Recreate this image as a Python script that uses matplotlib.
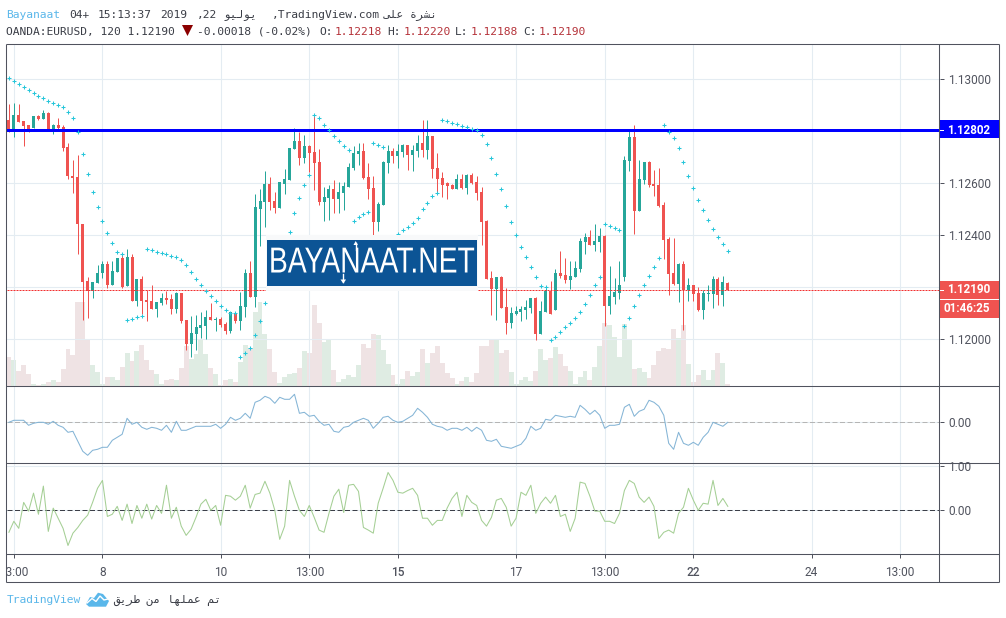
import numpy as np
import matplotlib
matplotlib.use("Agg")
import matplotlib.pyplot as plt
from matplotlib.patches import Rectangle, Polygon
from matplotlib.patheffects import AbstractPathEffect
from matplotlib.transforms import Affine2D, blended_transform_factory

# ---- data: prices in 1e-5 units ----
opens_pts = [112842,112800,112861,112836,112823,112810,112858,112846,112869,112800,
112822,112815,112739,112627,112623,112443,112224,112187,112218,112253,
112290,112210,112258,112313,112203,112317,112149,112232,112151,112148,
112118,112140,112159,112155,112118,112178,112075,111982,112021,112044,
112052,112086,112076,112078,112059,112032,112100,112071,112124,112255,
112163,112499,112527,112596,112532,112503,112596,112612,112731,112762,
112696,112742,112718,112681,112526,112541,112576,112539,112563,112586,
112659,112712,112722,112622,112580,112452,112516,112677,112722,112705,
112719,112746,112708,112723,112754,112727,112781,112658,112619,112599,
112593,112577,112616,112581,112631,112604,112566,112456,112236,112194,
112240,112125,112063,112098,112105,112113,112121,112159,112021,112105,
112187,112113,112255,112247,112229,112240,112270,112374,112393,112363,
112374,112397,112128,112163,112178,112241,112685,112776,112494,112612,
112681,112596,112593,112516,112385,112255,112212,112289,112188,112209,
112178,112113,112175,112174,112232,112170,112218]
highs_pts = [112904,112906,112904,112836,112823,112858,112861,112881,112872,112827,
112850,112822,112753,112689,112708,112443,112241,112222,112286,112299,
112301,112299,112314,112331,112346,112327,112232,112244,112190,112209,
112144,112177,112187,112173,112183,112178,112075,112090,112094,112107,
112113,112140,112086,112086,112068,112107,112107,112183,112269,112299,
112558,112576,112645,112623,112567,112603,112654,112736,112810,112795,
112785,112745,112859,112731,112586,112593,112612,112602,112605,112676,
112742,112753,112753,112676,112625,112526,112685,112746,112733,112750,
112750,112746,112746,112785,112842,112842,112781,112715,112641,112603,
112595,112635,112635,112635,112637,112625,112585,112459,112263,112241,
112244,112196,112123,112128,112130,112151,112160,112162,112148,112205,
112224,112269,112340,112313,112299,112301,112389,112410,112420,112443,
112427,112401,112282,112235,112301,112704,112806,112823,112689,112681,
112685,112650,112658,112527,112393,112389,112293,112301,112235,112210,
112201,112189,112210,112243,112239,112243,112220]
lows_pts = [112797,112778,112832,112740,112797,112810,112840,112846,112800,112787,
112806,112724,112616,112563,112328,112075,112084,112160,112218,112235,
112199,112210,112258,112199,112203,112149,112130,112098,112072,112118,
112087,112132,112136,112099,112100,112064,111961,111934,111959,112005,
112003,112075,112034,112049,112021,112026,112064,112036,112086,112163,
112126,112360,112433,112497,112484,112503,112558,112612,112731,112669,
112678,112644,112573,112516,112456,112459,112484,112484,112497,112584,
112648,112669,112616,112539,112398,112414,112516,112640,112678,112659,
112699,112648,112646,112701,112701,112692,112621,112561,112548,112540,
112577,112577,112577,112559,112596,112535,112363,112232,112094,112075,
112121,112021,112045,112094,112071,112078,112100,111999,112021,112105,
112098,112113,112236,112218,112192,112240,112260,112328,112363,112340,
112336,112052,112098,112136,112155,112224,112646,112404,112494,112596,
112585,112550,112508,112308,112170,112209,112143,112036,112147,112147,
112109,112078,112147,112120,112132,112128,112188]
closes_pts = [112797,112861,112832,112819,112806,112858,112845,112870,112800,112822,
112809,112736,112625,112619,112441,112222,112187,112221,112255,112290,
112210,112263,112313,112201,112317,112149,112232,112149,112145,112118,
112144,112159,112153,112118,112178,112071,111982,112025,112048,112055,
112086,112075,112078,112055,112032,112104,112071,112128,112255,112163,
112507,112531,112596,112527,112503,112602,112616,112735,112762,112696,
112742,112715,112677,112526,112547,112576,112539,112566,112589,112660,
112714,112722,112618,112577,112452,112518,112681,112722,112705,112722,
112746,112708,112727,112754,112727,112781,112655,112616,112593,112589,
112577,112616,112581,112631,112600,112562,112452,112232,112194,112240,
112121,112063,112101,112109,112117,112125,112159,112021,112109,112187,
112098,112255,112244,112228,112244,112274,112378,112393,112363,112378,
112397,112128,112167,112182,112208,112689,112776,112494,112616,112680,
112593,112589,112512,112381,112251,112212,112289,112189,112209,112175,
112113,112178,112179,112232,112170,112220,112190]
nan = float("nan")
sar_pts = [113002,112991,112979,112968,112956,112945,112933,112925,112914,112906,
112899,112891,112872,112849,112795,112710,112634,112564,112507,112453,
112407,112369,112334,112327,112073,112077,112085,112089,112346,112342,
112334,112331,112327,112319,112315,112304,112285,112258,112231,112208,
112185,112165,112146,112127,112112,112100,112100,111931,111947,111966,
112016,112069,112139,nan,nan,nan,nan,112411,112484,112541,
112591,112630,112860,112849,112822,112803,112779,112760,112741,112726,
112453,112469,112480,112488,112753,112745,112737,nan,nan,112404,
112419,112430,112446,112465,112499,112522,112549,112561,112841,112837,
112829,112826,112818,112814,112806,112802,112783,112749,112695,112634,
112576,112511,112450,112400,112354,112315,112277,112238,112204,112200,
111997,112008,112027,112046,112062,112081,112104,112135,112169,112208,
112238,112442,112434,112427,112419,112050,112081,112127,112169,112207,
112242,112276,112311,112822,112795,112772,112733,112680,112626,112580,
112534,112495,112457,112422,112392,112365,112338]
volumes = [87,78,45,63,36,6,3,6,12,18,12,51,111,93,252,252,138,63,42,6,
27,27,18,57,99,75,105,123,78,48,36,6,18,21,18,54,120,81,96,136,
96,54,36,3,18,21,12,72,123,114,222,252,156,111,42,9,27,36,39,54,
105,99,243,189,132,141,48,12,21,33,27,63,126,114,156,153,108,66,33,6,
21,45,30,42,111,69,99,120,69,39,24,6,15,27,12,39,120,120,138,138,
99,108,42,6,18,27,15,45,111,78,84,117,96,60,45,6,27,45,18,57,
120,189,183,147,87,186,141,51,54,42,24,63,105,114,111,171,144,183,66,12,
33,48,18,48,99,69,6]
osc_a = [0,.02,.02,.02,-.03,-.01,0,0,-.02,.01,
-.03,-.05,-.10,-.09,-.19,-.29,-.33,-.28,-.27,-.25,
-.25,-.18,-.15,-.12,.04,-.02,0,-.05,-.07,-.05,
-.06,-.08,-.03,-.10,.01,-.08,-.08,-.06,-.04,-.04,
-.04,-.04,-.02,-.06,-.02,.05,.02,.04,.09,.04,
.20,.22,.26,.24,.19,.25,.23,.23,.28,.09,
.10,.06,.07,.01,-.03,-.02,-.09,-.10,-.05,-.04,
0,.02,.04,.02,-.06,-.01,.05,.06,.02,0,
.01,.04,.07,.14,.10,.05,-.02,-.04,-.05,-.08,
-.06,-.06,-.08,-.05,-.09,-.05,-.08,-.18,-.19,-.17,
-.24,-.25,-.26,-.24,-.22,-.16,-.04,-.08,-.06,.03,
.02,.07,.06,.05,.06,.05,.17,.13,.08,.12,
.07,-.06,-.03,-.03,-.02,.15,.18,.06,.11,.13,
.22,.20,.16,.07,-.21,-.27,-.10,-.21,-.23,-.20,
-.23,-.15,-.10,0,-.02,-.04,0]
osc_b = [-.50,-.25,-.41,.18,-.02,.39,-.09,.55,-.48,.05,
-.18,-.41,-.80,-.52,-.39,-.23,-.11,.18,.50,.68,
-.14,-.09,.09,-.23,.14,-.30,.11,-.18,.14,-.20,
.11,-.07,.57,-.18,.07,-.36,-.57,-.43,-.16,.14,
.25,0,.11,-.34,.34,.32,.23,.32,.57,.05,
.36,.39,.66,.39,0,-.66,-.36,.68,.32,0,
-.14,.11,-.16,-.45,-.50,-.07,.32,.48,-.05,.57,
.59,.43,-.39,-.45,-.52,.16,.50,.86,.68,.41,
.39,.45,.50,.34,-.18,-.18,-.34,-.23,-.23,.05,
.27,.41,-.14,.34,.18,.11,-.23,-.36,-.16,.23,
.27,.07,-.36,-.18,.41,.34,.57,-.07,.16,.30,
.16,.34,-.14,-.09,-.48,-.18,.64,.61,.32,-.02,
-.02,-.25,-.25,-.30,-.07,.45,.68,.61,.30,.18,
.30,.09,-.64,-.50,-.45,-.52,-.07,.07,.50,.23,
0,.16,.14,.68,.11,.27,.09]
x_tick_bars = [1, 19, 43, 61, 79, 103, 121, 139, 163, 181]
x_tick_labels = ["13:00", "8", "10", "13:00", "15", "17", "13:00", "22", "24", "13:00"]
x_tick_bold = ["15", "22"]
price_ticks = [1.12, 1.122, 1.124, 1.126, 1.128, 1.13]
price_tick_labels = ["1.12000", "", "1.12400", "1.12600", "", "1.13000"]
level_price = 1.12802
last_price = 1.12190
countdown = "01:46:25"
watermark = "BAYANAAT.NET"

# ---- layout ----
W, H = 1006, 618
plt.rcParams["font.family"] = ["Roboto", "DejaVu Sans"]
fig = plt.figure(figsize=(W / 100, H / 100), dpi=100, facecolor="white")

def rect(x0, y0, x1, y1):
    return [x0 / W, 1 - y1 / H, (x1 - x0) / W, (y1 - y0) / H]

L, R = 7, 939.5
GRID = "#E4ECF2"
INK = "#50535E"
UP, DOWN = "#26A69A", "#EF5350"
VUP, VDOWN = "#DFECE3", "#EFE3E4"
PX = 1 / 100 * 72  # one pixel in points
SLOPE, ICPT = 4.924, 8.9
xlim = ((L - ICPT) / SLOPE, (R - ICPT) / SLOPE)

o = np.array(opens_pts) / 1e5
h = np.array(highs_pts) / 1e5
l = np.array(lows_pts) / 1e5
c = np.array(closes_pts) / 1e5
sar = np.array(sar_pts) / 1e5
vol = np.array(volumes)
bars = np.arange(len(o))
is_up = c >= o

ax_vol = fig.add_axes(rect(L, 44, R, 385.5), zorder=1)
ax = fig.add_axes(rect(L, 44, R, 385.5), zorder=2, facecolor="none")
ax_a = fig.add_axes(rect(L, 385.5, R, 462.5), zorder=2)
ax_b = fig.add_axes(rect(L, 462.5, R, 553.5), zorder=2)

# volume
ax_vol.bar(bars, vol, width=1.0, color=[VUP if u else VDOWN for u in is_up], linewidth=0)
ax_vol.set_xlim(*xlim)
ax_vol.set_ylim(0, 1024.5)
ax_vol.axis("off")

# main pane
S = 26070.0
ax.set_ylim(1.12 + (339.4 - 385.5) / S, 1.12 + (339.4 - 44) / S)
ax.vlines(bars[is_up], l[is_up], h[is_up], color=UP, lw=PX, zorder=3)
ax.vlines(bars[~is_up], l[~is_up], h[~is_up], color=DOWN, lw=PX, zorder=3)
bw = 3.0 / SLOPE
ax.bar(bars, np.abs(c - o), bottom=np.minimum(o, c), width=bw,
       color=[UP if u else DOWN for u in is_up], linewidth=0, zorder=3.2)
ax.axhline(level_price, color="#0000FF", lw=3 * PX, zorder=4)
ax.axhline(last_price, color="#F23030", lw=PX, ls=(0, (2, 1)), zorder=4)
ax.plot(bars, sar, ls="none", marker="+", ms=2.2, mew=0.75, color="#26C6DA", zorder=5)
ax.set_yticks(price_ticks)
ax.set_yticklabels(price_tick_labels)

# oscillator panes
ax_a.plot(bars, osc_a, color="#85B5D6", lw=1.05 * PX, zorder=3)
ax_a.axhline(0, color="#B5B5B5", lw=PX, ls=(0, (5, 2.5)), zorder=2.5)
ax_a.set_ylim((422.3 - 462.5) / 100, (422.3 - 385.5) / 100)
ax_a.set_yticks([0])
ax_a.set_yticklabels(["0.00"])

ax_b.plot(bars, osc_b, color="#A5CF95", lw=1.05 * PX, zorder=3)
ax_b.axhline(0, color="#3C3F48", lw=PX, ls=(0, (5, 2.5)), zorder=2.5)
ax_b.set_ylim((510.3 - 553.5) / 44, (510.3 - 462.5) / 44)
ax_b.set_yticks([0, 1])
ax_b.set_yticklabels(["0.00", "1.00"])

for a in (ax, ax_a, ax_b):
    a.set_xlim(*xlim)
    a.set_xticks(x_tick_bars)
    a.grid(True, color=GRID, lw=PX * 1.1, zorder=0)
    a.set_axisbelow(True)
    for s in a.spines.values():
        s.set_visible(False)
    a.yaxis.tick_right()
    a.tick_params(axis="y", length=4 * PX, width=PX, color=INK, labelcolor=INK,
                  labelsize=8.6, pad=4.6 * PX)
    a.tick_params(axis="x", length=0, labelbottom=False)
ax_b.set_xticklabels(x_tick_labels)
ax_b.tick_params(axis="x", length=4 * PX, width=PX, color=INK, labelcolor=INK,
                 labelsize=8.6, pad=8.5 * PX, labelbottom=True)
for t in ax_b.get_xticklabels():
    if t.get_text() in x_tick_bold:
        t.set_fontweight("medium")

# ---- chrome overlay in pixel coordinates ----
ov = fig.add_axes([0, 0, 1, 1], zorder=10, facecolor="none")
ov.set_xlim(0, W)
ov.set_ylim(H, 0)
ov.axis("off")

# covers (clipped labels)
ov.add_patch(Rectangle((0, 555), 6.3, 25, fc="white", ec="none", zorder=1))
ov.add_patch(Rectangle((941, 452), 57, 10, fc="white", ec="none", zorder=1))

# watermark: real text condensed horizontally about its centre
class CondenseX(AbstractPathEffect):
    def __init__(self, sx, cx):
        super().__init__()
        self.sx, self.cx = sx, cx
    def draw_path(self, renderer, gc, tpath, affine, rgbFace=None):
        squeezed = affine + Affine2D().translate(-self.cx, 0).scale(self.sx, 1).translate(self.cx, 0)
        renderer.draw_path(gc, tpath, squeezed, rgbFace)

ov.add_patch(Rectangle((266.5, 235), 212, 56, fc="#F8F9FA", ec="none", zorder=1))
ov.add_patch(Rectangle((267, 240), 210, 46, fc="#0C5495", ec="none", zorder=1.1))
wm_text = ov.text(372, 263.0, watermark, color="white", fontsize=26, family="Liberation Sans",
                  ha="center", va="center", zorder=1.2)
wm_text.set_path_effects([CondenseX(0.783, 372)])
ov.plot([355.7, 355.7], [243, 250], color="white", lw=1, zorder=1.3)
ov.add_patch(Polygon([[353.5, 245], [355.7, 241], [357.9, 245]], fc="white", ec="none", zorder=1.3))
ov.plot([343.3, 343.3], [274, 282], color="white", lw=1, zorder=1.3)
ov.add_patch(Polygon([[340.5, 279.5], [343.3, 283.5], [346.1, 279.5]], fc="white", ec="none", zorder=1.3))

# price tags
ty = blended_transform_factory(ov.transData, ax.transData)
ov.add_patch(Rectangle((940, 120), 59, 18, fc="#0000FF", ec="none", zorder=2))
ov.add_patch(Rectangle((940, 281), 59, 18, fc=DOWN, ec="none", zorder=2))
ov.add_patch(Rectangle((940, 300), 59, 18, fc=DOWN, ec="none", zorder=2))
ov.plot([939.5, 943.5], [130, 130], color="white", lw=PX, zorder=2.1)
ov.plot([939.5, 943.5], [290, 290], color="white", lw=PX, zorder=2.1)
ov.text(990, level_price, f"{level_price:.5f}", transform=ty, color="white", fontsize=8.4,
        fontweight="bold", ha="right", va="center", zorder=3)
ov.text(990, last_price, f"{last_price:.5f}", transform=ty, color="white", fontsize=8.4,
        fontweight="bold", ha="right", va="center", zorder=3)
ov.text(990, 309, countdown, color="white", fontsize=8.4, fontweight="bold",
        ha="right", va="center", zorder=3)

# frame
for x0, y0, x1, y1 in [(6.5, 43.5, 999.5, 43.5), (6.5, 581.5, 999.5, 581.5),
                       (6.5, 43.5, 6.5, 581.5), (999.5, 43.5, 999.5, 581.5),
                       (939.5, 43.5, 939.5, 581.5), (6.5, 385.5, 999.5, 385.5),
                       (6.5, 462.5, 999.5, 462.5), (6.5, 553.5, 999.5, 553.5)]:
    ov.plot([x0, x1], [y0, y1], color=INK, lw=1.05 * PX, zorder=4, solid_capstyle="butt")

# header
MONO = ["DejaVu Sans Mono", "DejaVu Sans"]
BLUE_T = "#5AB7EA"
DARK = "#3A3D46"
REDT = "#B5333A"
AR_JULY = "\uFEEE\uFEF4\uFEDF\uFEEE\uFEF3"
AR_PUB = "\uFEF0\uFEE0\uFECB \uFE93\uFEAE\uFEB8\uFEE7"
AR_FOOT = "\uFED6\uFEF3\uFEAE\uFEC3 \uFEE6\uFEE3 \uFE8E\uFEEC\uFEE0\uFEE4\uFECB \uFEE2\uFE97"
line1 = [(6.5, "Bayanaat", BLUE_T), (69.3, "04+", DARK), (97.7, "15:13:37", DARK),
         (160.3, "2019", DARK), (196.7, ",22", DARK), (224, AR_JULY, DARK),
         (272, ",TradingView.com", DARK), (384, AR_PUB, DARK)]
line2 = [(6.5, "OANDA:EURUSD, 120 1.12190", DARK), (196.7, "-0.00018 (-0.02%)", DARK),
         (319.3, "O:", DARK), (335, "1.12218", REDT), (387.3, "H:", DARK), (403.3, "1.12220", REDT),
         (455, "L:", DARK), (471, "1.12188", REDT), (523.3, "C:", DARK), (539, "1.12190", REDT)]
for yy, segs in ((15, line1), (32, line2)):
    for x, s, col in segs:
        ov.text(x, yy, s, color=col, fontsize=8.15, family=MONO, ha="left", va="center")
ov.add_patch(Polygon([[182, 25], [193, 25], [187.5, 36]], fc="#8B0000", ec="none"))

# footer
ov.text(7, 600, "TradingView", color=BLUE_T, fontsize=8.15, family=MONO, ha="left", va="center")
ov.text(113, 600, AR_FOOT, color=DARK, fontsize=8.15, family=MONO, ha="left", va="center")
ov.add_patch(Polygon([[86, 604], [90, 597], [94, 598], [98, 592.7], [103, 594], [109, 601],
                     [106, 606.7], [89, 606.7]], fc="#5AB7EA", ec="none"))
ov.plot([87, 92, 96, 100, 104, 108], [603, 598.5, 601.5, 596, 600, 599],
        color="white", lw=1, solid_joinstyle="miter")

fig.savefig("out.png", dpi=100)
